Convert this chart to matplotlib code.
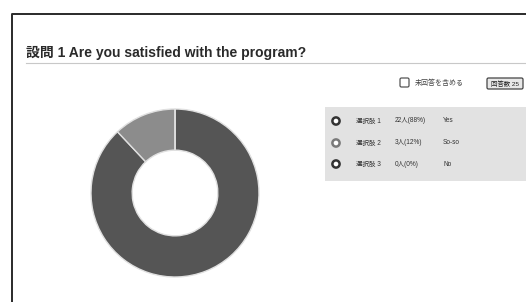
import matplotlib.pyplot as plt
from matplotlib.patches import Rectangle, Circle, FancyBboxPatch

plt.rcParams['font.family'] = ['Liberation Sans', 'Noto Sans CJK JP', 'DejaVu Sans']

# survey data
question = "設問 1 Are you satisfied with the program?"
choices = ["選択肢 1", "選択肢 2", "選択肢 3"]
answers = ["Yes", "So-so", "No"]
counts = [22, 3, 0]
slice_colors = ["#555555", "#8c8c8c", "#3a3a3a"]

total = sum(counts)
pct = [round(c * 100 / total) for c in counts]

fig = plt.figure(figsize=(5.26, 3.02), dpi=100)
fig.patch.set_facecolor("white")

# page overlay in pixel coordinates
ax = fig.add_axes([0, 0, 1, 1])
ax.set_xlim(0, 526)
ax.set_ylim(302, 0)
ax.axis("off")

# outer frame (cut off at right/bottom)
ax.plot([12, 12, 530], [305, 14, 14], color="#2a2a2a", lw=1.4)

ax.text(26, 53, question, fontsize=10, fontweight="bold", color="#2a2a2a",
        va="center", ha="left")
ax.plot([26, 526], [63, 63], color="#c8c8c8", lw=0.8)

# checkbox + button
ax.add_patch(FancyBboxPatch((400, 78), 9, 9, boxstyle="round,pad=0,rounding_size=1.5",
                            fc="white", ec="#555555", lw=0.9))
ax.text(415, 83, "未回答を含める", fontsize=5, color="#444444", va="center", ha="left")
ax.add_patch(FancyBboxPatch((487, 78), 36, 11, boxstyle="round,pad=0,rounding_size=1.5",
                            fc="#e8e8e8", ec="#444444", lw=0.9))
ax.text(505, 83.5, "回答数 25", fontsize=4.6, color="#222222", va="center", ha="center")

# legend box
ax.add_patch(Rectangle((325, 107), 205, 74, fc="#e2e2e2", ec="none"))
row_y = [121, 143, 164]
ring_colors = ["#333333", "#7a7a7a", "#333333"]
for y, ch, c, p, a, rc in zip(row_y, choices, counts, pct, answers, ring_colors):
    ax.add_patch(Circle((336, y), 3.6, fc="white", ec=rc, lw=1.8))
    ax.text(356, y, ch, fontsize=4.7, color="#333333", va="center", ha="left")
    ax.text(395, y, f"{c}人({p}%)", fontsize=4.7, color="#333333", va="center", ha="left")
    ax.text(443, y, a, fontsize=4.7, color="#333333", va="center", ha="left")

# donut
cx, cy, r = 175, 193, 84
pax = fig.add_axes([(cx - r) / 526, (302 - cy - r) / 302, 2 * r / 526, 2 * r / 302])
pax.pie(counts, colors=slice_colors, startangle=90, counterclock=False,
        wedgeprops=dict(width=0.49, edgecolor="#e0e0e0", linewidth=1.0))
pax.set_xlim(-1, 1)
pax.set_ylim(-1, 1)
pax.set_aspect("equal")

fig.savefig("out.png", dpi=100, facecolor="white")
